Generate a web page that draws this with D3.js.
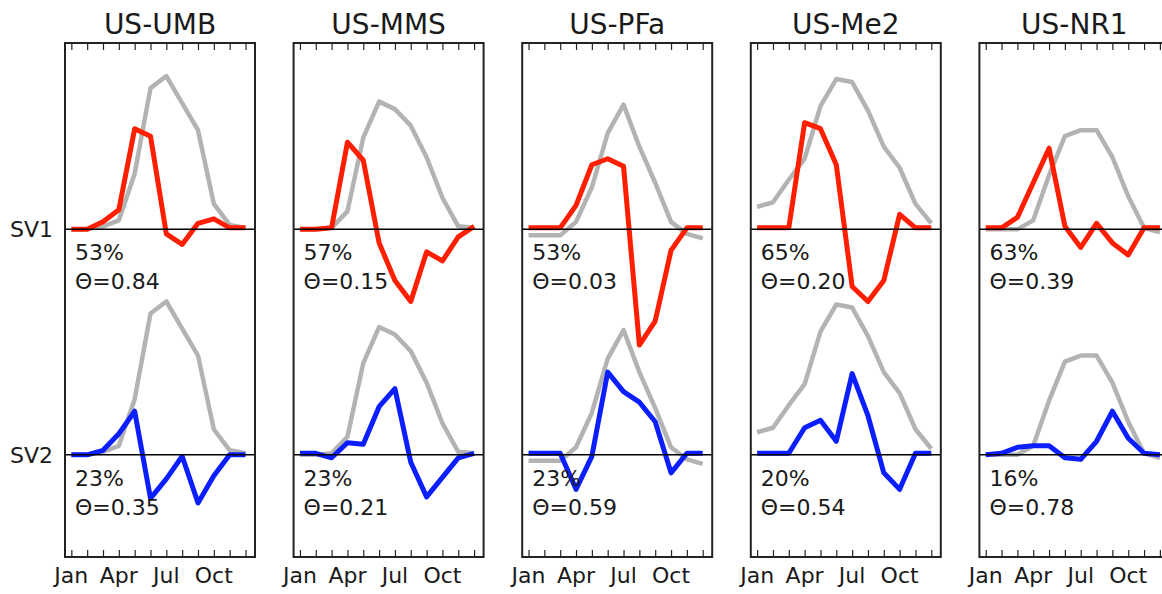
<!DOCTYPE html>
<html>
<head>
<meta charset="utf-8">
<script src="https://cdn.jsdelivr.net/npm/d3@7"></script>
<style>
  html, body { margin: 0; padding: 0; background: #ffffff; }
  svg { display: block; }
  text { font-family: "DejaVu Sans", sans-serif; fill: #1a1a1a; }
</style>
</head>
<body>
<svg id="chart" width="1162" height="594"></svg>
<script>
// Sites, one panel each
const sites = ["US-UMB", "US-MMS", "US-PFa", "US-Me2", "US-NR1"];

// Months 1..12 and the labelled ones
const months = [1, 2, 3, 4, 5, 6, 7, 8, 9, 10, 11, 12];
const tickMonths = [1, 4, 7, 10];
const tickLabels = ["Jan", "Apr", "Jul", "Oct"];

// Mean seasonal cycle (grey), drawn behind both singular vectors
const seasonalCycle = [
  [0.00, 0.00, 0.02, 0.06, 0.37, 0.94, 1.02, 0.84, 0.66, 0.17, 0.03, 0.01],
  [0.00, 0.00, 0.01, 0.12, 0.61, 0.85, 0.80, 0.69, 0.48, 0.21, 0.02, 0.01],
  [-0.04, -0.04, -0.04, 0.05, 0.28, 0.64, 0.83, 0.55, 0.31, 0.05, -0.03, -0.06],
  [0.15, 0.18, 0.33, 0.47, 0.82, 1.00, 0.98, 0.79, 0.55, 0.41, 0.17, 0.04],
  [0.00, 0.00, 0.00, 0.06, 0.36, 0.62, 0.66, 0.66, 0.48, 0.22, 0.01, -0.02]
];

// First singular vector (red)
const sv1Vectors = [
  [0.00, 0.00, 0.05, 0.13, 0.67, 0.62, -0.03, -0.10, 0.04, 0.07, 0.01, 0.01],
  [0.00, 0.00, 0.01, 0.58, 0.46, -0.09, -0.34, -0.48, -0.15, -0.21, -0.05, 0.02],
  [0.01, 0.01, 0.01, 0.16, 0.43, 0.47, 0.42, -0.77, -0.61, -0.14, 0.01, 0.01],
  [0.01, 0.01, 0.01, 0.71, 0.67, 0.43, -0.38, -0.48, -0.34, 0.10, 0.01, 0.01],
  [0.01, 0.01, 0.08, 0.31, 0.54, 0.02, -0.12, 0.04, -0.09, -0.17, 0.01, 0.01]
];

// Second singular vector (blue)
const sv2Vectors = [
  [0.00, 0.00, 0.03, 0.14, 0.29, -0.29, -0.16, -0.01, -0.32, -0.14, 0.00, 0.00],
  [0.01, 0.01, -0.02, 0.08, 0.07, 0.32, 0.44, -0.05, -0.28, -0.15, -0.02, 0.01],
  [0.01, 0.01, 0.01, -0.23, -0.01, 0.55, 0.42, 0.35, 0.22, -0.12, 0.01, 0.01],
  [0.01, 0.01, 0.01, 0.18, 0.23, 0.09, 0.54, 0.26, -0.12, -0.23, 0.01, 0.01],
  [0.00, 0.01, 0.05, 0.06, 0.06, -0.02, -0.03, 0.09, 0.29, 0.11, 0.01, 0.00]
];

// Explained variance and Θ for each vector
const sv1Share = ["53%", "57%", "53%", "65%", "63%"];
const sv1Theta = ["0.84", "0.15", "0.03", "0.20", "0.39"];
const sv2Share = ["23%", "23%", "23%", "20%", "16%"];
const sv2Theta = ["0.35", "0.21", "0.59", "0.54", "0.78"];

// ---- layout ----
const panelLeft0 = 65, panelStep = 228.6, panelWidth = 190;
const plotTop = 43, plotBottom = 557;
const sv1Offset = 1.5, sv2Offset = 0;

const svg = d3.select("#chart");

const y = d3.scaleLinear().domain([-0.68, 2.74]).range([plotBottom, plotTop]);

const colors = { season: "#b3b3b3", sv1: "#ff1e00", sv2: "#0a1eff", frame: "#222222" };

sites.forEach((site, i) => {
  const left = panelLeft0 + i * panelStep;
  const x = d3.scaleLinear().domain([0.6, 12.6]).range([left, left + panelWidth]);
  const g = svg.append("g");

  const line = offset => d3.line()
    .x((d, k) => x(months[k]))
    .y(d => y(d + offset));

  // seasonal cycle in both bands
  [sv1Offset, sv2Offset].forEach(off => {
    g.append("path")
      .datum(seasonalCycle[i])
      .attr("d", line(off))
      .attr("fill", "none")
      .attr("stroke", colors.season)
      .attr("stroke-width", 4.5)
      .attr("stroke-linejoin", "round");
  });

  // singular vectors
  g.append("path")
    .datum(sv1Vectors[i])
    .attr("d", line(sv1Offset))
    .attr("fill", "none")
    .attr("stroke", colors.sv1)
    .attr("stroke-width", 5)
    .attr("stroke-linejoin", "round");

  g.append("path")
    .datum(sv2Vectors[i])
    .attr("d", line(sv2Offset))
    .attr("fill", "none")
    .attr("stroke", colors.sv2)
    .attr("stroke-width", 5)
    .attr("stroke-linejoin", "round");

  // zero lines
  [sv1Offset, sv2Offset].forEach(off => {
    g.append("line")
      .attr("x1", left).attr("x2", left + panelWidth)
      .attr("y1", y(off)).attr("y2", y(off))
      .attr("stroke", "#000").attr("stroke-width", 1.5);
  });

  // inward month ticks on top and bottom
  const bottomAxis = d3.axisBottom(x).tickValues(months).tickSize(-7).tickFormat("");
  const topAxis = d3.axisTop(x).tickValues(months).tickSize(-7).tickFormat("");
  const ba = g.append("g").attr("transform", `translate(0,${plotBottom})`).call(bottomAxis);
  const ta = g.append("g").attr("transform", `translate(0,${plotTop})`).call(topAxis);
  [ba, ta].forEach(a => {
    a.select(".domain").remove();
    a.selectAll(".tick line").attr("stroke", colors.frame).attr("stroke-width", 1.2);
  });

  // month labels
  g.selectAll("text.month")
    .data(tickMonths)
    .join("text")
    .attr("class", "month")
    .attr("x", d => x(d))
    .attr("y", 583)
    .attr("text-anchor", "middle")
    .attr("font-size", 22)
    .text((d, k) => tickLabels[k]);

  // frame
  g.append("rect")
    .attr("x", left).attr("y", plotTop)
    .attr("width", panelWidth).attr("height", plotBottom - plotTop)
    .attr("fill", "none")
    .attr("stroke", colors.frame)
    .attr("stroke-width", 2);

  // title
  g.append("text")
    .attr("x", left + panelWidth / 2)
    .attr("y", 34)
    .attr("text-anchor", "middle")
    .attr("font-size", 28)
    .text(site);

  // annotations
  const annot = (off, share, theta) => {
    g.append("text")
      .attr("x", left + 10).attr("y", y(off) + 31)
      .attr("font-size", 22)
      .text(share);
    g.append("text")
      .attr("x", left + 10).attr("y", y(off) + 60)
      .attr("font-size", 22)
      .text("Θ=" + theta);
  };
  annot(sv1Offset, sv1Share[i], sv1Theta[i]);
  annot(sv2Offset, sv2Share[i], sv2Theta[i]);
});

// row labels
[["SV1", sv1Offset], ["SV2", sv2Offset]].forEach(([label, off]) => {
  svg.append("text")
    .attr("x", 53)
    .attr("y", y(off))
    .attr("dy", "0.35em")
    .attr("text-anchor", "end")
    .attr("font-size", 22)
    .text(label);
});
</script>
</body>
</html>
